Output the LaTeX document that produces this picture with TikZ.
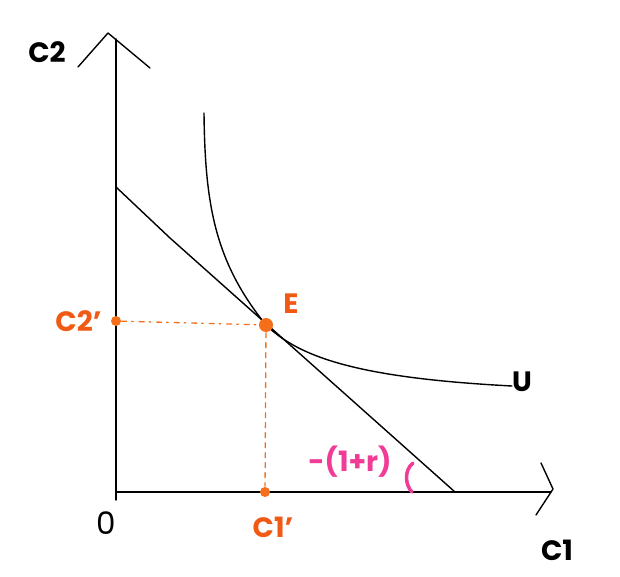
\documentclass[tikz,border=0pt]{standalone}
\usepackage{fontspec}
\setmainfont{Poppins}
\usepackage{xcolor}
\usetikzlibrary{positioning,arrows.meta}
\definecolor{eorange}{RGB}{240,90,20}
\definecolor{dotorange}{RGB}{245,110,25}
\definecolor{slopepink}{RGB}{240,60,150}

\begin{document}
\begin{tikzpicture}[x=1pt,y=-1pt,line width=1.4pt,line cap=round,line join=round,
  lbl/.style={font=\fontsize{28}{31}\selectfont\bfseries,inner sep=0pt},
  olbl/.style={lbl,text=eorange},
  pt/.style={circle,fill=dotorange,inner sep=0pt,minimum size=#1},
  guide/.style={draw=dotorange,line width=1.3pt,dash pattern=on 5pt off 5pt on 1.5pt off 6pt}]
\useasboundingbox (0,0) rectangle (620,577);
% axes
\coordinate (O) at (116,500);
\coordinate (ytop) at (116,39);
\coordinate (xend) at (551,492);
\coordinate (orig) at (116,492);
\draw (O) -- (ytop);
\draw (orig) -- (xend);
\draw (78,67) -- (108,33) -- (150,68);
\draw (541,463) -- (553,489) -- (536,515);
\node[lbl] (c2) at (47,52) {C2};
\node[lbl] (c1) at (557,550) {C1};
\node[lbl,font=\fontsize{31}{32}\selectfont] (zero) at (106,523) {0};
% budget line and indifference curve
\coordinate (bl) at (116,187);
\coordinate (br) at (455,492);
\draw (bl) -- (170,238) -- (br);
\draw (204,113) .. controls (205,205) and (215,262) .. (266,325)
  .. controls (300,358) and (360,378) .. (512,386);
\node[lbl] (u) at (522,382) {U};
% equilibrium
\node[pt=14pt] (e) at (266,325) {};
\node[olbl] (elbl) at (291,304) {E};
\node[pt=10pt] (c2p) at (116,321) {};
\node[pt=10pt] (c1p) at (265,492) {};
\node[olbl,left=8pt of c2p] (c2plbl) {C2'};
\node[olbl] (c1plbl) at (273,527) {C1'};
\draw[guide] (c2p) -- (e);
\draw[guide,dash pattern=on 5pt off 5pt] (e) -- (c1p);
% slope
\node[lbl,text=slopepink] (slope) at (350,462) {-(1+r)};
\draw[slopepink,line width=3.5pt] (413,463) .. controls (404,470) and (405,485) .. (412,492);
\end{tikzpicture}
\end{document}
